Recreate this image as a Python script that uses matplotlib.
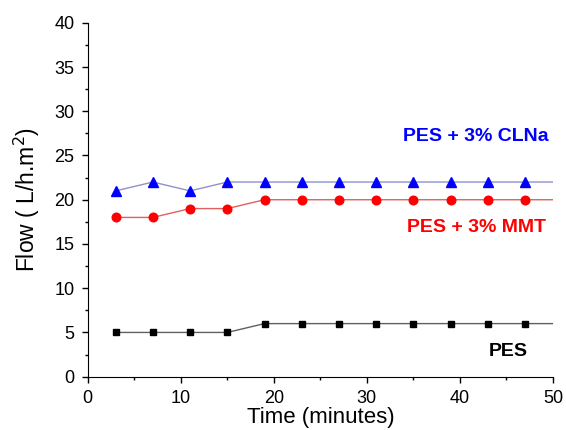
import matplotlib.pyplot as plt
from matplotlib.ticker import MultipleLocator

plt.rcParams['font.family'] = ['Liberation Sans', 'DejaVu Sans']

# Sampling times (last point at 50 only carries the line to the edge)
time = [3, 7, 11, 15, 19, 23, 27, 31, 35, 39, 43, 47, 50]

pes = [5, 5, 5, 5, 6, 6, 6, 6, 6, 6, 6, 6, 6]
pes_mmt = [18, 18, 19, 19, 20, 20, 20, 20, 20, 20, 20, 20, 20]
pes_clna = [21, 22, 21, 22, 22, 22, 22, 22, 22, 22, 22, 22, 22]

fig = plt.figure(figsize=(5.66, 4.30), dpi=100)
ax = fig.add_axes([0.155, 0.124, 0.822, 0.823])

marks = list(range(len(time) - 1))
ax.plot(time, pes, color='#606060', lw=1, marker='s', ms=5,
        mfc='black', mec='black', markevery=marks)
ax.plot(time, pes_mmt, color='#e06060', lw=1, marker='o', ms=6.2,
        mfc='red', mec='red', markevery=marks)
ax.plot(time, pes_clna, color='#9090cc', lw=1, marker='^', ms=7,
        mfc='blue', mec='blue', markevery=marks)

ax.text(49.5, 27.2, 'PES + 3% CLNa', color='blue', fontsize=14,
        fontweight='bold', ha='right', va='center')
ax.text(49.2, 16.9, 'PES + 3% MMT', color='red', fontsize=14,
        fontweight='bold', ha='right', va='center')
ax.text(47.3, 2.8, 'PES', color='black', fontsize=14,
        fontweight='bold', ha='right', va='center')

ax.set_xlim(0, 50)
ax.set_ylim(0, 40)
ax.xaxis.set_major_locator(MultipleLocator(10))
ax.xaxis.set_minor_locator(MultipleLocator(5))
ax.yaxis.set_major_locator(MultipleLocator(5))
ax.yaxis.set_minor_locator(MultipleLocator(2.5))
ax.tick_params(which='major', direction='out', length=4.5, width=1,
               labelsize=13)
ax.tick_params(axis='x', which='major', pad=5)
ax.tick_params(axis='y', which='major', pad=5)
ax.tick_params(which='minor', direction='out', length=2.5, width=1)

ax.spines['top'].set_visible(False)
ax.spines['right'].set_visible(False)

ax.set_xlabel('Time (minutes)', fontsize=16, labelpad=0)
ax.set_ylabel('Flow ( L/h.m$^2$)', fontsize=16.5, labelpad=9)

fig.savefig('out.png', dpi=100)
